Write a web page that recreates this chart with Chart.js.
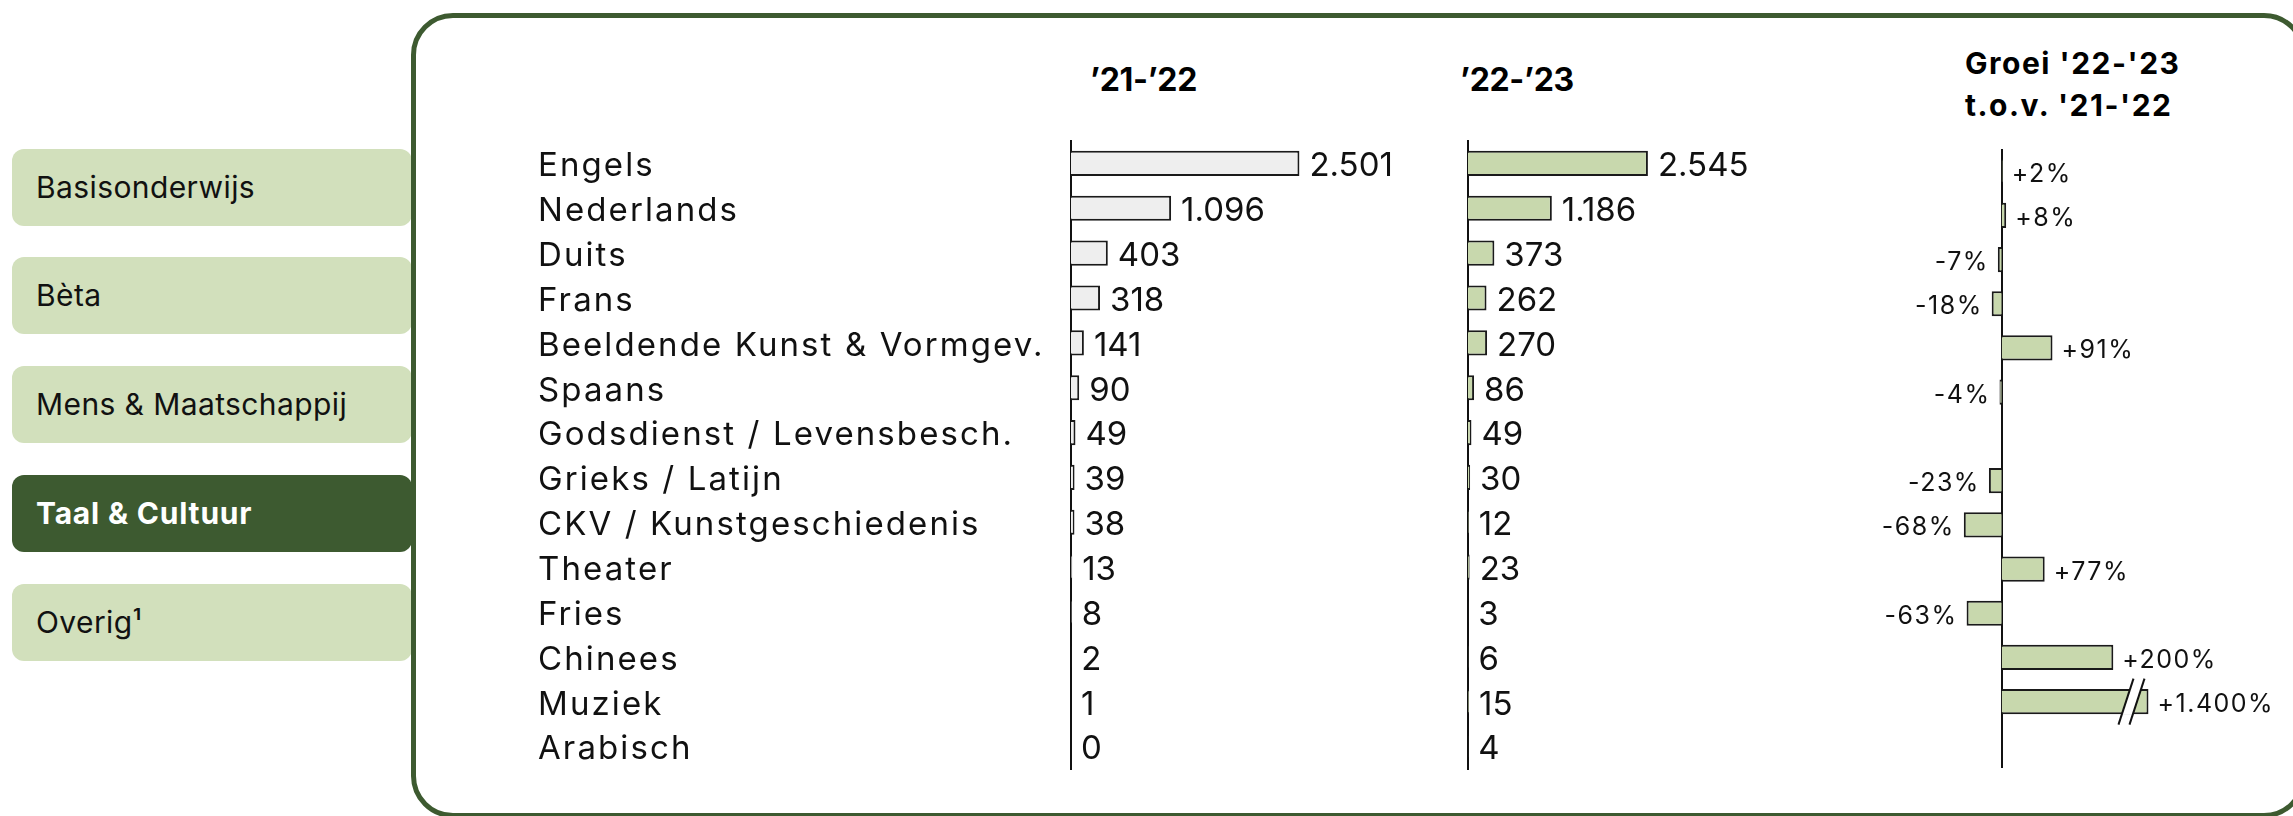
<!DOCTYPE html>
<html>
<head>
<meta charset="utf-8">
<script src="https://cdn.jsdelivr.net/npm/chart.js@4.4.1/dist/chart.umd.min.js"></script>
<style>
  html, body { margin: 0; padding: 0; background: #fff; }
  body { width: 2293px; height: 816px; position: relative; overflow: hidden; font-family: Inter, sans-serif; color: #111; }
  .tab { position: absolute; left: 12px; width: 376px; height: 77px; border-radius: 12px; background: #d2e0bc;
         font-size: 30px; line-height: 77px; padding-left: 24px; white-space: nowrap; letter-spacing: 0.4px; }
  .tab.active { background: #3d5a30; color: #fff; font-weight: 700; letter-spacing: 0.8px; }
  #box { position: absolute; left: 411px; top: 13px; width: 1895px; height: 805px; box-sizing: border-box;
         border: 5px solid #3d5a30; border-radius: 42px; }
  .h { position: absolute; font-weight: 700; white-space: nowrap; color: #000; }
  canvas { position: absolute; top: 0; }
</style>
</head>
<body>
<div id="tabs"></div>
<div id="box"></div>
<div class="h" id="h1" style="left:1090px; top:64px; font-size:32px; line-height:32px; letter-spacing:-0.3px;"></div>
<div class="h" id="h2" style="left:1460px; top:64px; font-size:32px; line-height:32px; letter-spacing:-0.3px;"></div>
<div class="h" id="h3" style="left:1965px; top:42px; font-size:30px; line-height:42px; letter-spacing:1.5px;"></div>
<canvas id="c1" width="902" height="816" style="left:538px"></canvas>
<canvas id="c2" width="400" height="816" style="left:1460px"></canvas>
<canvas id="c3" width="433" height="816" style="left:1860px"></canvas>
<script>
// ---------- data ----------
const sections = ['Basisonderwijs', 'Bèta', 'Mens & Maatschappij', 'Taal & Cultuur', 'Overig¹'];
const activeSection = 'Taal & Cultuur';
const headingPrev = '’21-’22';
const headingCurr = '’22-’23';
const headingGrowth = ["Groei '22-'23", "t.o.v. '21-'22"];
const categories = ['Engels', 'Nederlands', 'Duits', 'Frans', 'Beeldende Kunst & Vormgev.', 'Spaans',
  'Godsdienst / Levensbesch.', 'Grieks / Latijn', 'CKV / Kunstgeschiedenis', 'Theater', 'Fries',
  'Chinees', 'Muziek', 'Arabisch'];
const values2122 = [2501, 1096, 403, 318, 141, 90, 49, 39, 38, 13, 8, 2, 1, 0];
const values2223 = [2545, 1186, 373, 262, 270, 86, 49, 30, 12, 23, 3, 6, 15, 4];
const growthPct = [2, 8, -7, -18, 91, -4, null, -23, -68, 77, -63, 200, 1400, null];
const growthAxisBreak = 263; // bars beyond this are drawn broken

// ---------- static text ----------
const tabTops = [149, 257, 366, 475, 584];
const tabsEl = document.getElementById('tabs');
sections.forEach((s, i) => {
  const d = document.createElement('div');
  d.className = 'tab' + (s === activeSection ? ' active' : '');
  d.style.top = tabTops[i] + 'px';
  d.textContent = s;
  tabsEl.appendChild(d);
});
document.getElementById('h1').textContent = headingPrev;
document.getElementById('h2').textContent = headingCurr;
document.getElementById('h3').innerHTML = headingGrowth.join('<br>');

// ---------- helpers ----------
const fmt = v => String(v).replace(/\B(?=(\d{3})+(?!\d))/g, '.');
const fmtPct = v => (v > 0 ? '+' : '') + fmt(v) + '%';

const spacingPlugin = px => ({
  id: 'spacing',
  beforeDraw(chart) { chart.ctx.letterSpacing = px + 'px'; }
});

const labelPlugin = cfg => ({
  id: 'valueLabels',
  afterDatasetsDraw(chart) {
    const ctx = chart.ctx;
    const meta = chart.getDatasetMeta(0);
    ctx.save();
    ctx.font = cfg.size + 'px Inter';
    ctx.letterSpacing = cfg.spacing + 'px';
    ctx.fillStyle = '#111';
    ctx.textBaseline = 'middle';
    meta.data.forEach((bar, i) => {
      const v = cfg.values[i];
      if (v == null) return;
      const neg = v < 0;
      ctx.textAlign = neg ? 'right' : 'left';
      ctx.fillText(cfg.format(v), bar.x + (neg ? -cfg.gap : cfg.gap), bar.y + cfg.dy);
    });
    ctx.restore();
  }
});

const zeroLine = {
  id: 'zeroLine',
  beforeDatasetsDraw(chart) {
    const {ctx, chartArea: {top, bottom}, scales: {x}} = chart;
    const px = Math.round(x.getPixelForValue(0));
    ctx.save();
    ctx.strokeStyle = '#111';
    ctx.lineWidth = 2;
    ctx.beginPath();
    ctx.moveTo(px, top);
    ctx.lineTo(px, bottom);
    ctx.stroke();
    ctx.restore();
  }
};

const breakMarks = {
  id: 'breakMarks',
  afterDatasetsDraw(chart) {
    const ctx = chart.ctx;
    const meta = chart.getDatasetMeta(0);
    growthPct.forEach((v, i) => {
      if (v == null || v <= growthAxisBreak) return;
      const bar = meta.data[i];
      const x = bar.x, y = bar.y, h = bar.height / 2;
      const slope = 15 / 46;
      const a = x - 30, b = x - 19; // bottom x of the two slashes at y+23
      ctx.save();
      ctx.fillStyle = '#fff';
      ctx.beginPath();
      ctx.moveTo(a + slope * (23 - h), y + h);
      ctx.lineTo(a + slope * (23 + h), y - h);
      ctx.lineTo(b + slope * (23 + h), y - h);
      ctx.lineTo(b + slope * (23 - h), y + h);
      ctx.closePath();
      ctx.fill();
      ctx.strokeStyle = '#111';
      ctx.lineWidth = 2;
      [a, b].forEach(x0 => {
        ctx.beginPath();
        ctx.moveTo(x0, y + 23);
        ctx.lineTo(x0 + 15, y - 23);
        ctx.stroke();
      });
      ctx.restore();
    });
  }
};

Chart.defaults.font.family = 'Inter';
Chart.defaults.color = '#111';

const common = (padTop, padBottom) => ({
  indexAxis: 'y',
  responsive: false,
  animation: false,
  devicePixelRatio: 1,
  layout: { padding: { top: padTop, bottom: padBottom, left: 0, right: 0 } },
  plugins: { legend: { display: false }, tooltip: { enabled: false } }
});

// ---------- chart 1: '21-'22 with category labels ----------
new Chart(document.getElementById('c1'), {
  type: 'bar',
  data: { labels: categories, datasets: [{ data: values2122, backgroundColor: '#eeeeee', borderColor: '#1a1a1a',
    borderWidth: 2, barPercentage: 0.56, categoryPercentage: 1 }] },
  options: Object.assign(common(141, 47), {
    scales: {
      x: { display: false, min: 0, max: 4040 },
      y: { grid: { display: false }, border: { display: true, color: '#111', width: 2 },
           ticks: { autoSkip: false, crossAlign: 'far', color: '#111', padding: 0, labelOffset: 3,
                    font: { family: 'Inter', size: 33 } },
           afterFit: s => { s.width = 533; } }
    }
  }),
  plugins: [spacingPlugin(2.1), labelPlugin({ values: values2122, format: fmt, size: 33, spacing: 0, gap: 10, dy: 3 })]
});

// ---------- chart 2: '22-'23 ----------
new Chart(document.getElementById('c2'), {
  type: 'bar',
  data: { labels: categories, datasets: [{ data: values2223, backgroundColor: '#c8d8ad', borderColor: '#1a1a1a',
    borderWidth: 2, barPercentage: 0.56, categoryPercentage: 1 }] },
  options: Object.assign(common(141, 47), {
    scales: {
      x: { display: false, min: 0, max: 5545 },
      y: { grid: { display: false }, border: { display: true, color: '#111', width: 2 },
           ticks: { display: false }, afterFit: s => { s.width = 8; } }
    }
  }),
  plugins: [labelPlugin({ values: values2223, format: fmt, size: 33, spacing: 0, gap: 10, dy: 3 })]
});

// ---------- chart 3: growth ----------
new Chart(document.getElementById('c3'), {
  type: 'bar',
  data: { labels: categories, datasets: [{ data: growthPct.map(v => v == null ? null : Math.min(v, growthAxisBreak)),
    backgroundColor: '#c8d8ad', borderColor: '#1a1a1a', borderWidth: 2, barPercentage: 0.57, categoryPercentage: 1 }] },
  options: Object.assign(common(149, 48), {
    scales: {
      x: { display: false, min: -254, max: 522 },
      y: { display: false }
    }
  }),
  plugins: [zeroLine, breakMarks, labelPlugin({ values: growthPct, format: fmtPct, size: 25, spacing: 1.5, gap: 9, dy: 3 })]
});
</script>
</body>
</html>
